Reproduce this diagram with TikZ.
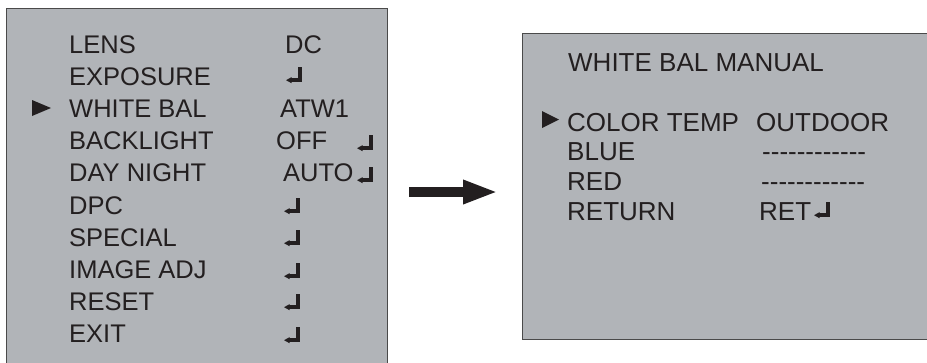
\documentclass[tikz,border=0pt]{standalone}
\usepackage{fontspec}
\setmainfont{Liberation Sans}
\usetikzlibrary{arrows.meta}
\definecolor{panel}{HTML}{B1B4B8}
\definecolor{edge}{HTML}{4A4A4A}
\definecolor{ink}{HTML}{231F20}
\newcommand{\dashrow}{-{}-{}-{}-{}-{}-{}-{}-{}-{}-{}-{}-}
\tikzset{
  menubox/.style={draw=edge, line width=1.4pt, fill=panel, inner sep=0pt, anchor=north west},
  ltxt/.style={anchor=base west, inner sep=0pt, text=ink, font=\fontsize{25.5}{30}\selectfont},
  rtxt/.style={anchor=base west, inner sep=0pt, text=ink, font=\fontsize{26}{31}\selectfont},
  bigarrow/.style={draw=ink, line width=10pt, -{Triangle[length=35pt,width=22pt]}},
  enter/.pic={
    \fill[ink] (-4,0) rectangle (0,-15);
    \fill[ink] (-11,0) rectangle (0,-3.6);
    \fill[ink] (-10.5,1.2) -- (-10.5,-4.8) -- (-16,-1.8) -- cycle;
  }
}
\begin{document}
\begin{tikzpicture}[x=1pt,y=-1pt]
\useasboundingbox (0,0) rectangle (927,362);
\clip (0,0) rectangle (927,362);
% panels
\node[menubox, minimum width=381.5pt, minimum height=380pt] (L) at (5.5,8) {};
\node[menubox, minimum width=420pt, minimum height=306.5pt] (R) at (522,32.5) {};
% left menu
\fill[ink] (32,100) -- (32,116) -- (51,108) -- cycle;
\node[ltxt] (l1) at (69,53) {LENS};
\node[ltxt] (l2) at (69,85.2) {EXPOSURE};
\node[ltxt] (l3) at (69,117.4) {WHITE BAL};
\node[ltxt] (l4) at (69,149.6) {BACKLIGHT};
\node[ltxt] (l5) at (69,181.8) {DAY NIGHT};
\node[ltxt] (l6) at (69,214) {DPC};
\node[ltxt] (l7) at (69,246.2) {SPECIAL};
\node[ltxt] (l8) at (69,278.4) {IMAGE ADJ};
\node[ltxt] (l9) at (69,310.6) {RESET};
\node[ltxt] (l10) at (69,342.8) {EXIT};
\node[ltxt] (v1) at (285,53) {DC};
\node[ltxt] (v3) at (280,117.4) {ATW1};
\node[ltxt] (v4) at (276,149.6) {OFF};
\node[ltxt] (v5) at (283,181.8) {AUTO};
\pic at (302,82) {enter};
\pic at (373,150) {enter};
\pic at (373,182) {enter};
\pic at (300,213) {enter};
\pic at (300,245) {enter};
\pic at (300,278) {enter};
\pic at (300,309) {enter};
\pic at (300,342) {enter};
% right menu
\node[rtxt] (t) at (568,71) {WHITE BAL MANUAL};
\fill[ink] (542,111) -- (542,128) -- (559,119.5) -- cycle;
\node[rtxt] (r1) at (567,131) {COLOR TEMP};
\node[rtxt] (r2) at (567,160.5) {BLUE};
\node[rtxt] (r3) at (567,190) {RED};
\node[rtxt] (r4) at (567,220) {RETURN};
\node[rtxt] (w1) at (756,131) {OUTDOOR};
\node[rtxt] (w2) at (762,160.5) {\dashrow};
\node[rtxt] (w3) at (761,190) {\dashrow};
\node[rtxt] (w4) at (759,220) {RET};
\pic at (830,217) {enter};
% arrow
\draw[bigarrow, shorten <=21pt, shorten >=24pt] (L.east |- 0,192) -- (R.west |- 0,192);
\end{tikzpicture}
\end{document}
